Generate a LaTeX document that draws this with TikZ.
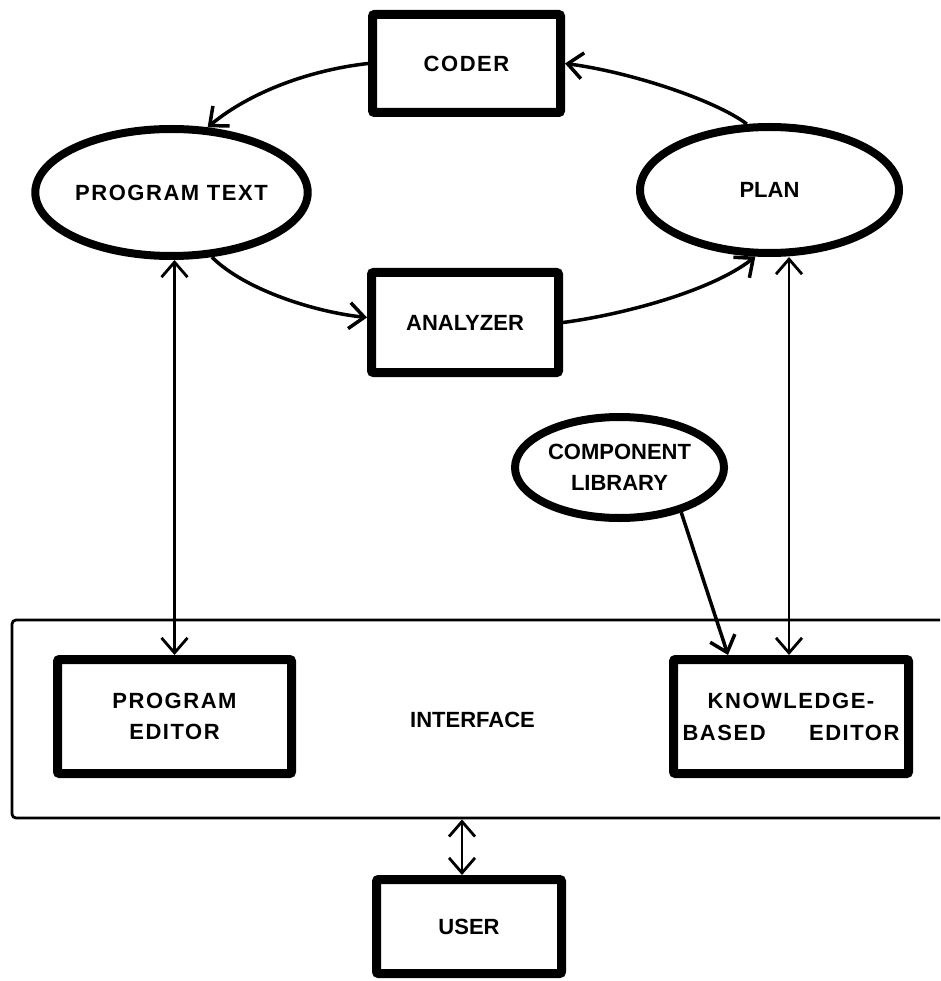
\documentclass[tikz,border=0pt]{standalone}
\usepackage{fontspec}
\setmainfont{Liberation Sans}
\newfontfamily\widesans{Liberation Sans}[LetterSpace=7]
\usetikzlibrary{arrows.meta,shapes.geometric}

\begin{document}
\begin{tikzpicture}[x=1pt,y=-1pt,
  >={Straight Barb[length=15pt,width=26pt]},
  lbl/.style={font={\fontsize{22}{31}\selectfont\bfseries}, align=center},
  widelbl/.style={font={\widesans\fontsize{22}{31}\selectfont\bfseries}, align=center},
  box/.style={draw, line width=9pt, rectangle, rounded corners=2pt, inner sep=0pt},
  oval/.style={draw, line width=8pt, ellipse, inner sep=0pt},
  flow/.style={->, line width=3.5pt},
  link/.style={<->, line width=2.8pt},
  frame/.style={draw, line width=2.8pt, rounded corners=4pt, inner sep=0pt}]

\useasboundingbox (0,0) rectangle (940,981);
\clip (0,0) rectangle (940,981);

% processing cycle
\node[box, widelbl, minimum width=188pt, minimum height=98pt] (coder) at (466.5,63.5) {CODER};
\node[box, lbl, minimum width=187pt, minimum height=100pt] (analyzer) at (465,322.5) {ANALYZER};
\node[oval, widelbl, minimum width=257pt, minimum height=127pt] (pt) at (171.5,192.5) {PROGRAM TEXT};
\node[oval, lbl, minimum width=259pt, minimum height=126pt] (plan) at (769.5,190) {PLAN};
\node[oval, lbl, minimum width=209pt, minimum height=101pt] (comp) at (619.5,467.5) {COMPONENT\\LIBRARY};

% interface layer
\node[frame, minimum width=958pt, minimum height=198pt] (iface) at (491,719) {};
\node[lbl] (ifacelabel) at (472.5,720) {INTERFACE};
\node[box, widelbl, minimum width=234pt, minimum height=114pt] (pe) at (174.5,716.5) {PROGRAM\\EDITOR};
\node[box, widelbl, font={\widesans\fontsize{22}{32}\selectfont\bfseries},
      minimum width=235pt, minimum height=114pt] (kbe) at (791,716.5)
      {KNOWLEDGE-\\\makebox[217pt]{BASED\hfill EDITOR}};
\node[box, lbl, minimum width=185pt, minimum height=94pt] (user) at (469,926.5) {USER};

% connectors
\draw[flow] (coder.west) .. controls (310,70) and (250,92) .. (pt.61);
\draw[flow] (plan.109) .. controls (715,100) and (630,72) .. (coder.east);
\draw[flow] (pt.-58) .. controls (245,290) and (315,312) .. ([yshift=5pt]analyzer.west);
\draw[flow] (analyzer.east) .. controls (620,315) and (710,292) .. (plan.-102);
\draw[link] (pe.north |- pt.south) -- (pe.north);
\draw[link] ([xshift=-2pt]kbe.north |- plan.south) -- ([xshift=-2pt]kbe.north);
\draw[flow] (comp.-36) -- ([xshift=-63pt]kbe.north);
\draw[link] ([xshift=-7pt]user.north |- iface.south) -- ([xshift=-7pt]user.north);
\end{tikzpicture}
\end{document}
